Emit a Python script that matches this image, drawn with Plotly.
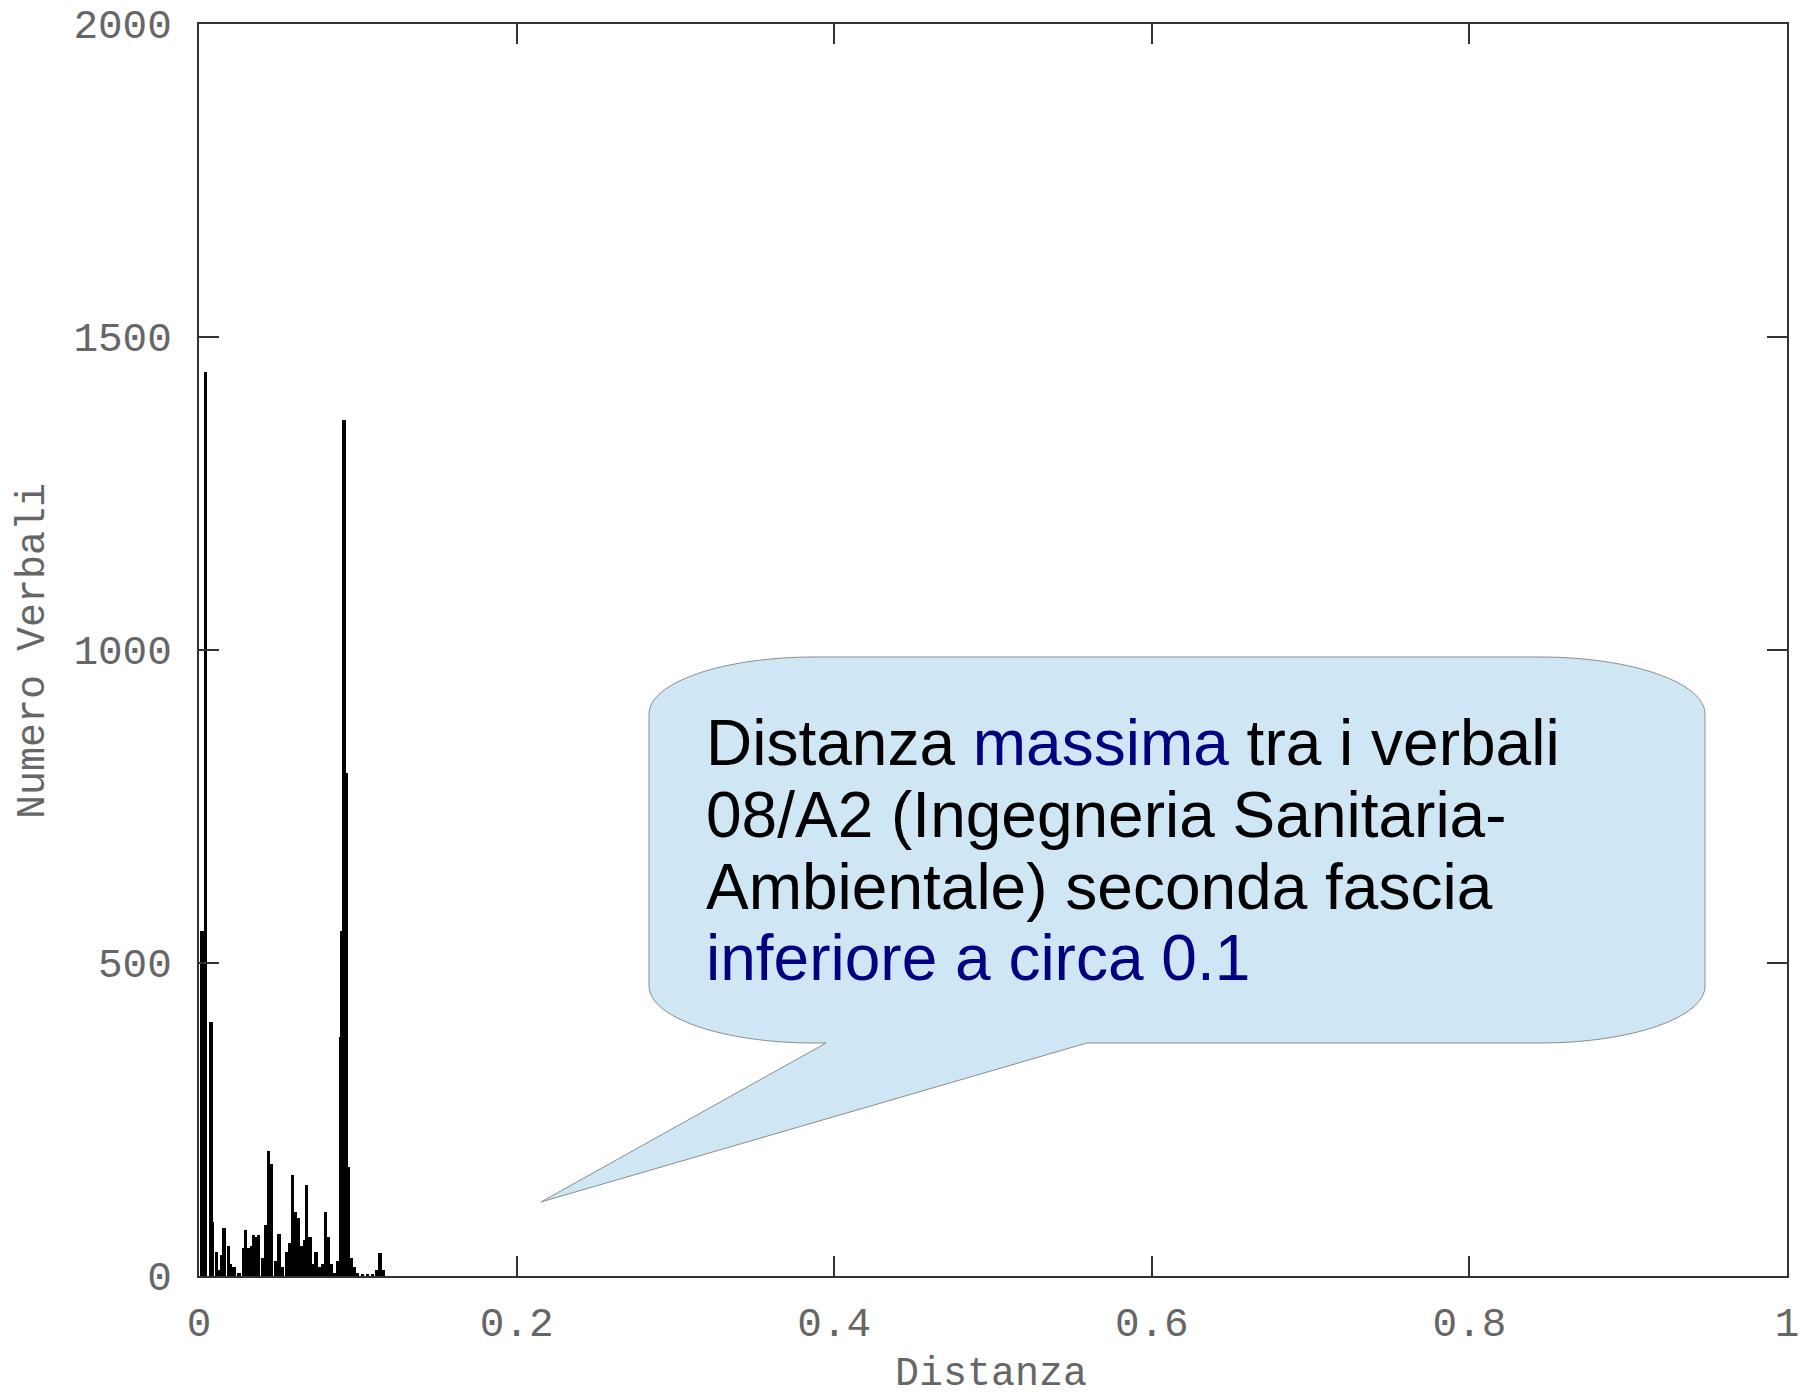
import plotly.graph_objects as go

# ---- data ----
distanza = [0.0019, 0.0043, 0.0075, 0.0085, 0.0111, 0.0132, 0.0143, 0.0157, 0.0185, 0.0195,
            0.0220, 0.0252, 0.0279, 0.0292, 0.0313, 0.0330, 0.0342, 0.0363, 0.0376, 0.0401,
            0.0422, 0.0437, 0.0458, 0.0480, 0.0504, 0.0527, 0.0552, 0.0573, 0.0588, 0.0607,
            0.0626, 0.0647, 0.0665, 0.0678, 0.0699, 0.0720, 0.0737, 0.0762, 0.0779, 0.0794,
            0.0815, 0.0836, 0.0856, 0.0873, 0.0890, 0.0898, 0.0913, 0.0930, 0.0938, 0.0957,
            0.0978, 0.1000, 0.1030, 0.1060, 0.1090, 0.1119, 0.1140, 0.1160]
numero_verbali = [551, 1444, 406, 87, 39, 10, 34, 77, 48, 19,
                  15, 5, 44, 73, 44, 48, 65, 63, 65, 29,
                  82, 200, 179, 24, 67, 15, 39, 53, 161, 102,
                  92, 48, 58, 145, 63, 19, 39, 15, 19, 103,
                  63, 19, 5, 24, 382, 551, 1368, 803, 174, 29,
                  15, 5, 2, 2, 2, 10, 36, 10]

x_ticks = [0, 0.2, 0.4, 0.6, 0.8, 1]
x_ticktext = ["0", "0.2", "0.4", "0.6", "0.8", "1"]
y_ticks = [0, 500, 1000, 1500, 2000]
y_ticktext = ["0", "500", "1000", "1500", "2000"]

callout_lines = [
    "Distanza <span style='color:#000080'>massima</span> tra i verbali",
    "08/A2 (Ingegneria Sanitaria-",
    "Ambientale) seconda fascia",
    "<span style='color:#000080'>inferiore a circa 0.1</span>",
]

# ---- geometry ----
W, H = 1803, 1400
L, R, T, B = 199, 1787, 24, 1276


def px(x):
    return (x - L) / (R - L)


def py(y):
    return (B - y) / (B - T)


fig = go.Figure()
fig.add_trace(go.Bar(
    x=distanza, y=numero_verbali, width=0.002,
    marker=dict(color="#000000", line=dict(width=0)),
    hoverinfo="x+y",
))

mono = "Liberation Mono, Courier New, monospace"
axis_common = dict(
    showgrid=False, zeroline=False, showline=True, linecolor="#333333", linewidth=2,
    ticks="inside", ticklen=20, tickwidth=1.5, tickcolor="#333333", mirror="ticks",
    tickfont=dict(family=mono, size=41, color="#666666"), automargin=False,
)
fig.update_xaxes(range=[0, 1], tickvals=x_ticks, ticktext=x_ticktext,
                 ticklabelstandoff=9, **axis_common)
fig.update_yaxes(range=[0, 2000], tickvals=y_ticks, ticktext=y_ticktext,
                 ticklabelstandoff=17, **axis_common)

# callout bubble (rounded rectangle with a tail)
left, right, top, bot = 649, 1705, 657, 1043
rx, ry, k = 165, 57, 0.5523
base1, base2, tip = 826, 1087, (541, 1202)
pts = [
    ("M", [(left + rx, top)]),
    ("L", [(right - rx, top)]),
    ("C", [(right - rx + k * rx, top), (right, top + ry - k * ry), (right, top + ry)]),
    ("L", [(right, bot - ry)]),
    ("C", [(right, bot - ry + k * ry), (right - rx + k * rx, bot), (right - rx, bot)]),
    ("L", [(base2, bot)]),
    ("L", [tip]),
    ("L", [(base1, bot)]),
    ("L", [(left + rx, bot)]),
    ("C", [(left + rx - k * rx, bot), (left, bot - ry + k * ry), (left, bot - ry)]),
    ("L", [(left, top + ry)]),
    ("C", [(left, top + ry - k * ry), (left + rx - k * rx, top), (left + rx, top)]),
]
path = ""
for cmd, ps in pts:
    path += cmd + " " + " ".join(f"{px(a):.5f},{py(b):.5f}" for a, b in ps) + " "
path += "Z"
fig.add_shape(type="path", path=path, xref="paper", yref="paper",
              fillcolor="#CFE6F4", line=dict(color="#8c8c8c", width=1), layer="above")

baselines = [765, 837, 909, 980]
for txt, bl in zip(callout_lines, baselines):
    fig.add_annotation(text=txt, x=px(704), y=py(bl - 22), xref="paper", yref="paper",
                       xanchor="left", yanchor="middle", showarrow=False, align="left",
                       font=dict(family="Liberation Sans, Arial, sans-serif", size=64,
                                 color="#000000"))

# axis titles
fig.add_annotation(text="Distanza", x=px(991), y=py(1399), xref="paper", yref="paper",
                   showarrow=False, xanchor="center", yanchor="bottom",
                   font=dict(family=mono, size=40, color="#666666"))
fig.add_annotation(text="Numero Verbali", x=px(33), y=py(651), xref="paper", yref="paper",
                   showarrow=False, xanchor="center", yanchor="middle", textangle=-90,
                   font=dict(family=mono, size=40, color="#666666"))

fig.update_layout(
    width=W, height=H,
    margin=dict(l=L, r=W - R, t=T, b=H - B, pad=0, autoexpand=False),
    plot_bgcolor="white", paper_bgcolor="white",
    showlegend=False, bargap=0,
)

fig.write_html("out.html", config={"displayModeBar": False},
               post_script="document.body.style.margin='0px';")
